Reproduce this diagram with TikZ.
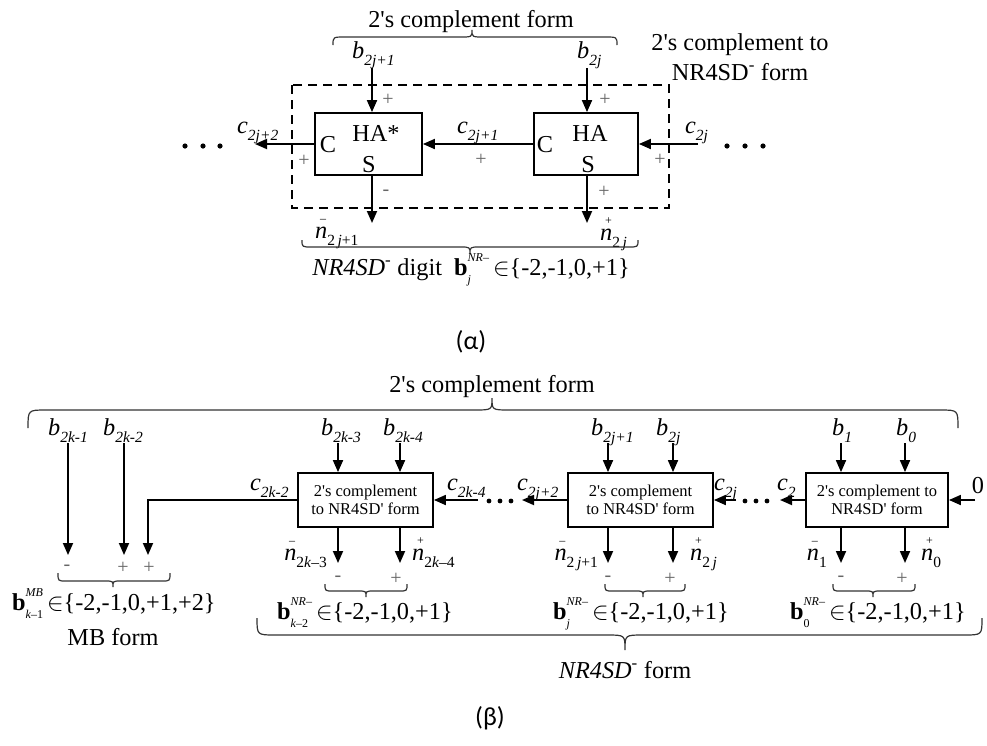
\documentclass[tikz,border=0pt]{standalone}
\usepackage{fontspec}
\setmainfont{Liberation Serif}[Ligatures=TeXOff]
\newfontfamily\capfont{Carlito}
\usetikzlibrary{arrows.meta}
\newcommand{\sm}{\fontsize{15.5}{15.5}\selectfont}
\newcommand{\tn}{\fontsize{12}{12}\selectfont}
\newcommand{\ib}[2]{\textit{#1}\raisebox{-0.3em}{\sm\textit{#2}}}
\newcommand{\nlab}[2]{\textit{n}\rlap{\kern-0.3em\raisebox{0.62em}{\tn #1}}\raisebox{-0.32em}{\sm #2}}
\newcommand{\SubSup}[2]{\rlap{\raisebox{-0.35em}{#2}}\raisebox{0.55em}{#1}}
\newcommand{\bnr}[1]{\textbf{b}\SubSup{\tn\textit{NR}–}{\tn #1}}
\newcommand{\hbrace}[7]{\draw[brc] (#1,#4) .. controls (#1,#5) .. ({#1+#7},#5) -- ({#3-#7},#5) .. controls (#3,#5) .. (#3,#6) .. controls (#3,#5) .. ({#3+#7},#5) -- ({#2-#7},#5) .. controls (#2,#5) .. (#2,#4);}
\tikzset{
  wire/.style={line width=1.8pt},
  arr/.style={wire,-{Triangle[length=12pt,width=10pt]}},
  blk/.style={draw,line width=1.8pt,inner sep=0pt},
  brc/.style={line width=1.2pt,black!80},
  sgn/.style={text=black!60,font=\fontsize{20}{20}\selectfont,inner sep=0pt},
  lbl/.style={font=\fontsize{24.3}{27}\selectfont,inner sep=0pt},
  boxtxt/.style={blk,align=center,font=\fontsize{16.5}{18.5}\selectfont},
}
\begin{document}
\begin{tikzpicture}[x=1pt,y=-1pt]
\useasboundingbox[fill=white] (0,0) rectangle (987,745);
% ================= (a) =================
\node[lbl,anchor=base] (tca) at (471,27) {2's complement form};
\hbrace{333}{617}{472}{45}{37}{30}{12}
\node[lbl,anchor=base] (trl1) at (740,50) {2's complement to};
\node[lbl,anchor=base] (trl2) at (740,80) {NR4SD\textsuperscript{-} form};
\draw[line width=1.5pt,dash pattern=on 9pt off 6pt] (292,85) rectangle (669,208);
\node[blk,minimum width=107,minimum height=62] (ha1) at (368.5,144) {};
\node[blk,minimum width=104,minimum height=62] (ha2) at (586,144) {};
\node[lbl] (ha1c) at (328,145) {C};
\node[lbl] (ha1t) at (376,133) {HA*};
\node[lbl] (ha1s) at (369,165) {S};
\node[lbl] (ha2c) at (545,145) {C};
\node[lbl] (ha2t) at (590,133) {HA};
\node[lbl] (ha2s) at (588,165) {S};
% inputs
\node[lbl,anchor=base west] (lb1) at (352,58) {\ib{b}{2j+1}};
\node[lbl,anchor=base west] (lb0) at (577,58) {\ib{b}{2j}};
\coordinate (ta1) at (372,68);
\coordinate (ta2) at (587,68);
\draw[arr] (ta1) -- (ta1 |- ha1.north);
\draw[arr] (ta2) -- (ta2 |- ha2.north);
\node[sgn] (pa1) at (388,100) {+};
\node[sgn] (pa2) at (605,100) {+};
% carries
\coordinate (cl) at (255,144);
\coordinate (cr) at (698,144);
\draw[arr] (ha2.west) -- (ha1.east);
\draw[arr] (ha1.west) -- (cl);
\draw[arr] (cr) -- (ha2.east);
\node[lbl,anchor=base west] (c22) at (237,133) {\ib{c}{2j+2}};
\node[lbl,anchor=base west] (c21) at (457,133) {\ib{c}{2j+1}};
\node[lbl,anchor=base west] (c20) at (685,133) {\ib{c}{2j}};
\node[sgn] (pc1) at (304,161) {+};
\node[sgn] (pc2) at (481,160) {+};
\node[sgn] (pc3) at (660,160) {+};
\foreach \xx in {185,203,220,727,745,763} \fill (\xx,146) circle (2.6);
% outputs
\coordinate (oa1) at (372,223);
\coordinate (oa2) at (587,223);
\draw[arr] (oa1 |- ha1.south) -- (oa1);
\draw[arr] (oa2 |- ha2.south) -- (oa2);
\node[sgn] (ma1) at (386,193) {-};
\node[sgn] (pa3) at (604,192) {+};
\node[lbl,anchor=base west] (na1) at (315,238) {\nlab{–}{2\,\textit{j}+1}};
\node[lbl,anchor=base west] (na0) at (600,240) {\nlab{+}{2\,\textit{j}}};
\hbrace{302}{638}{470}{240}{247}{254}{10}
\node[lbl,anchor=base] (dig) at (471,275) {\textit{NR4SD}\textsuperscript{-} digit\ \ \bnr{\textit{j}}\,$\in$\{-2,-1,0,+1\}};
\node[font=\capfont\fontsize{26}{26}\selectfont] (alpha) at (471,342) {(α)};
% ================= (b) =================
\node[lbl,anchor=base] (tcb) at (492,392) {2's complement form};
\hbrace{28}{958}{492}{428}{410}{398}{18}
\node[lbl,anchor=base west] (lbk1) at (48,435) {\ib{b}{2k-1}};
\node[lbl,anchor=base west] (lbk2) at (103,435) {\ib{b}{2k-2}};
\coordinate (s1) at (68,443);
\coordinate (e1) at (68,555);
\coordinate (s2) at (124,443);
\coordinate (e2) at (124,555);
\coordinate (e3) at (148,555);
\draw[arr] (s1) -- (e1);
\draw[arr] (s2) -- (e2);
\node[boxtxt,minimum width=135,minimum height=54] (B1) at (365.5,500) {2's complement\\to NR4SD' form};
\node[boxtxt,minimum width=145,minimum height=54] (B2) at (640.5,500) {2's complement\\to NR4SD' form};
\node[boxtxt,minimum width=142,minimum height=54] (B3) at (877,500) {2's complement to\\NR4SD' form};
\draw[arr] (B1.west) -| (e3);
% box inputs
\node[lbl,anchor=base west] (lb3) at (321,435) {\ib{b}{2k-3}};
\node[lbl,anchor=base west] (lb4) at (383,435) {\ib{b}{2k-4}};
\node[lbl,anchor=base west] (lb5) at (591,435) {\ib{b}{2j+1}};
\node[lbl,anchor=base west] (lb6) at (656,435) {\ib{b}{2j}};
\node[lbl,anchor=base west] (lb7) at (832,435) {\ib{b}{1}};
\node[lbl,anchor=base west] (lb8) at (896,435) {\ib{b}{0}};
\foreach \xx/\bb in {338/B1,400/B1,608/B2,673/B2,841/B3,905/B3}{
  \coordinate (tt) at (\xx,443);
  \draw[arr] (tt) -- (tt |- \bb.north);
  \coordinate (bb) at (\xx,563);
  \draw[arr] (bb |- \bb.south) -- (bb);
}
% carries
\coordinate (d1) at (478,500);
\coordinate (d2) at (522,500);
\coordinate (d3) at (736,500);
\coordinate (d4) at (780,500);
\coordinate (d5) at (975,500);
\draw[arr] (d1) -- (B1.east);
\draw[arr] (B2.west) -- (d2);
\draw[arr] (d3) -- (B2.east);
\draw[arr] (B3.west) -- (d4);
\draw[arr] (d5) -- (B3.east);
\foreach \xx in {489,500,511,745,756,767} \fill (\xx,501) circle (2.4);
\node[lbl,anchor=base west] (cb1) at (250,490) {\ib{c}{2k-2}};
\node[lbl,anchor=base west] (cb2) at (447,490) {\ib{c}{2k-4}};
\node[lbl,anchor=base west] (cb3) at (517,490) {\ib{c}{2j+2}};
\node[lbl,anchor=base west] (cb4) at (714,490) {\ib{c}{2j}};
\node[lbl,anchor=base west] (cb5) at (777,490) {\ib{c}{2}};
\node[lbl] (zero) at (978,486) {0};
% outputs
\node[lbl,anchor=base east] (n1) at (327,560) {\nlab{–}{2\textit{k}–3}};
\node[lbl,anchor=base west] (n2) at (412,560) {\nlab{+}{2\textit{k}–4}};
\node[lbl,anchor=base east] (n3) at (598,560) {\nlab{–}{2\,\textit{j}+1}};
\node[lbl,anchor=base west] (n4) at (690,560) {\nlab{+}{2\,\textit{j}}};
\node[lbl,anchor=base east] (n5) at (827,560) {\nlab{–}{1}};
\node[lbl,anchor=base west] (n6) at (921,560) {\nlab{+}{0}};
\foreach \xm/\xp in {338/396,608/670,841/902}{
  \node[sgn] at (\xm,579) {-};
  \node[sgn] at (\xp,579) {+};
}
\hbrace{325}{407}{366}{584}{591}{597}{8}
\hbrace{605}{685}{643}{584}{591}{597}{8}
\hbrace{833}{915}{873}{584}{591}{597}{8}
% MB digit
\node[sgn] (mb1) at (67,568) {-};
\node[sgn] (mb2) at (123,568) {+};
\node[sgn] (mb3) at (149,568) {+};
\hbrace{58}{170}{113}{573}{581}{587}{8}
\node[lbl,anchor=base west] (mbd) at (12,610) {\textbf{b}\SubSup{\tn\textit{MB}}{\tn\textit{k}–1}\,$\in$\{-2,-1,0,+1,+2\}};
\node[lbl,anchor=base] (mbf) at (113,645) {MB form};
% NR digits
\node[lbl,anchor=base west] (nd1) at (277,619) {\bnr{\textit{k}–2}\,$\in$\{-2,-1,0,+1\}};
\node[lbl,anchor=base west] (nd2) at (553,619) {\bnr{\textit{j}}\,$\in$\{-2,-1,0,+1\}};
\node[lbl,anchor=base west] (nd3) at (790,619) {\bnr{0}\,$\in$\{-2,-1,0,+1\}};
\hbrace{257}{982}{625}{618}{635}{650}{18}
\node[lbl,anchor=base] (nrf) at (625,678) {\textit{NR4SD}\textsuperscript{-} form};
\node[font=\capfont\fontsize{26}{26}\selectfont] (beta) at (490,718) {(β)};
\end{tikzpicture}
\end{document}
